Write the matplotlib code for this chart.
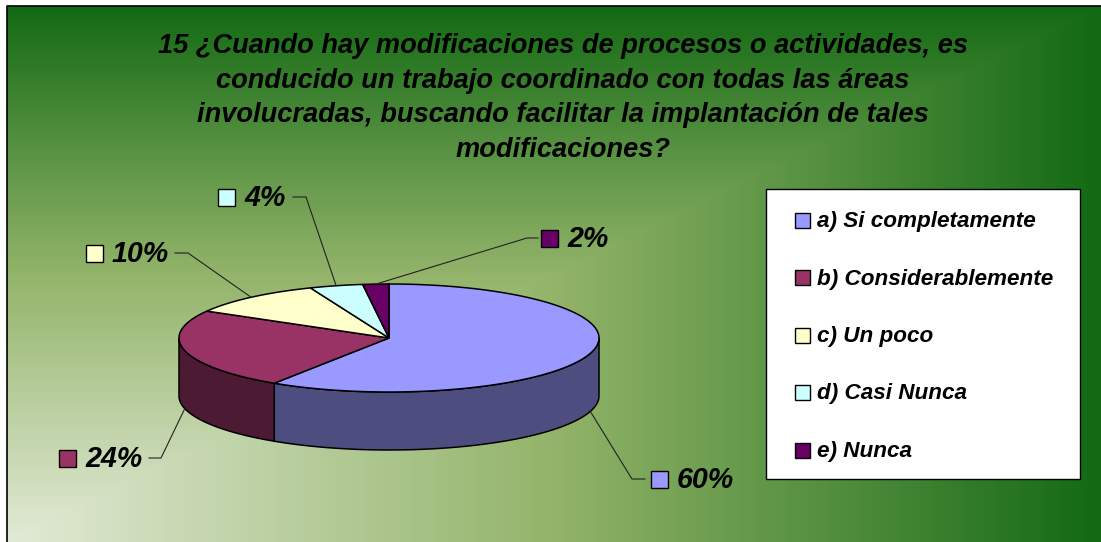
import numpy as np
import matplotlib
matplotlib.use("Agg")
import matplotlib.pyplot as plt
from matplotlib.colors import LinearSegmentedColormap
from matplotlib.patches import Polygon, Rectangle

title = ("15 ¿Cuando hay modificaciones de procesos o actividades, es\n"
         "conducido un trabajo coordinado con todas las áreas\n"
         "involucradas, buscando facilitar la implantación de tales\n"
         "modificaciones?")
categories = ["a) Si completamente", "b) Considerablemente", "c) Un poco", "d) Casi Nunca", "e) Nunca"]
# slice sizes as measured on the drawn pie, the printed labels are rounded
values = [59.2, 24.1, 10.6, 4.1, 2.0]
pct_labels = ["60%", "24%", "10%", "4%", "2%"]
colors = ["#9999FF", "#993366", "#FFFFCC", "#CCFFFF", "#660066"]
side_colors = ["#4D4D80", "#4D1A33", "#808066", "#668080", "#330033"]

plt.rcParams["font.family"] = ["Liberation Sans", "DejaVu Sans"]

# pie geometry in pixels
CX, CY, RX, RY, DEPTH = 389, 338, 210, 54, 58

fig = plt.figure(figsize=(11.01, 5.42), dpi=100, facecolor="white")
ax = fig.add_axes([0, 0, 1, 1])
ax.set_xlim(0, 1101)
ax.set_ylim(542, 0)
ax.axis("off")

# fondo: degradado rectangular desde la esquina inferior izquierda
cmap = LinearSegmentedColormap.from_list("bg", [(0, "#E2EAD6"), (0.5, "#93B46A"), (1, "#146A14")])
u = np.linspace(0, 1, 547)
v = np.linspace(1, 0, 268)
uu, vv = np.meshgrid(u, v)
ax.imshow(np.maximum(uu, vv), cmap=cmap, vmin=0, vmax=1, extent=(7, 1101, 542, 6), aspect="auto", zorder=0)
ax.set_xlim(0, 1101)
ax.set_ylim(542, 0)
ax.plot([7, 7, 1101], [542, 6, 6], color="black", lw=1.2, zorder=1)


def rim(a0, a1, n=120):
    # angles clockwise from the top, in degrees
    t = np.radians(np.linspace(a0, a1, n))
    return CX + RX * np.sin(t), CY - RY * np.cos(t)


edges = np.cumsum([0] + values) / sum(values) * 360

# pared lateral, solo la parte delantera
for i in range(len(values)):
    a0, a1 = max(edges[i], 90), min(edges[i + 1], 270)
    if a1 <= a0:
        continue
    x, y = rim(a0, a1)
    pts = np.vstack([np.column_stack([x, y]), np.column_stack([x[::-1], y[::-1] + DEPTH])])
    ax.add_patch(Polygon(pts, closed=True, fc=side_colors[i], ec="black", lw=1.1, zorder=2))

# cara superior
for i in range(len(values)):
    x, y = rim(edges[i], edges[i + 1])
    pts = np.vstack([[CX, CY], np.column_stack([x, y])])
    ax.add_patch(Polygon(pts, closed=True, fc=colors[i], ec="black", lw=1.1, zorder=3))

ax.text(563, 98, title, ha="center", va="center", fontsize=19.6, fontweight="bold",
        fontstyle="italic", color="black", linespacing=1.44, zorder=5)

# etiquetas: x del cuadro, y, codo de la linea, fin de la linea
label_x = [651, 59, 86, 218, 541]
label_y = [479, 458, 253, 197, 238]
elbow_x = [632, 161, 188, 306, 527]
tail_x = [645, 149, 175, 293, 538]

mids = (edges[:-1] + edges[1:]) / 2
for i in range(len(values)):
    sx, sy = rim(mids[i], mids[i], 1)
    sx, sy = sx[0], sy[0]
    if 90 < mids[i] < 270:
        sy += DEPTH
    ax.plot([sx, elbow_x[i], tail_x[i]], [sy, label_y[i], label_y[i]], color="#222222", lw=0.8, zorder=4)
    ax.add_patch(Rectangle((label_x[i], label_y[i] - 8.5), 17, 17, fc=colors[i], ec="black", lw=1, zorder=5))
    ax.text(label_x[i] + 26, label_y[i] + 1, pct_labels[i], ha="left", va="center", fontsize=20.6,
            fontweight="bold", fontstyle="italic", zorder=5)

# leyenda
ax.add_patch(Rectangle((766, 189), 314, 290, fc="white", ec="black", lw=1, zorder=5))
legend_y = [220.5, 277.5, 335, 392.5, 450]
for i, name in enumerate(categories):
    ax.add_patch(Rectangle((795, legend_y[i] - 7.5), 15, 15, fc=colors[i], ec="black", lw=1, zorder=6))
    ax.text(817, legend_y[i] + 1.5, name, ha="left", va="center", fontsize=16.2, fontweight="bold",
            fontstyle="italic", zorder=6)

fig.savefig("out.png", dpi=100)
